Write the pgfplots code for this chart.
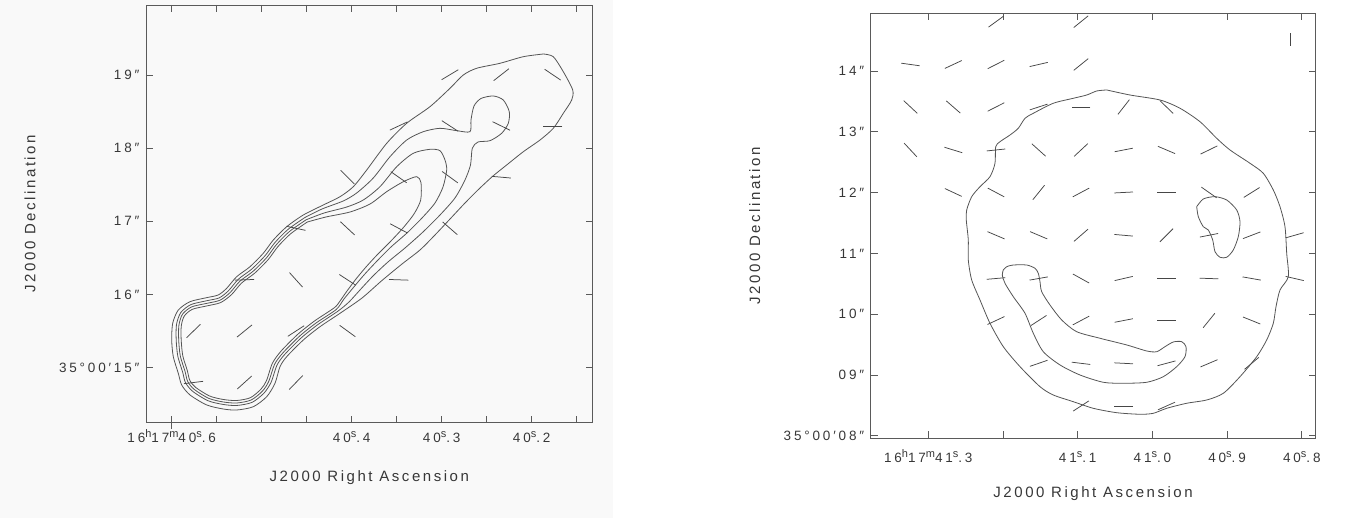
\documentclass[border=0pt]{standalone}
\usepackage{fontspec}
\setmainfont{Liberation Sans}
\newfontfamily\tickfont{Liberation Sans}[LetterSpace=21]
\newfontfamily\labfont{Liberation Sans}[LetterSpace=17]
\newcommand\su[1]{\raisebox{0.42em}{\fontsize{11}{12}\selectfont #1}}
\usepackage{pgfplots}
\pgfplotsset{compat=1.18}
\definecolor{bgl}{RGB}{249,249,249}
\definecolor{axc}{RGB}{90,90,90}
\definecolor{cnt}{RGB}{85,85,85}
\definecolor{vec}{RGB}{70,70,70}
\definecolor{txt}{RGB}{55,55,55}
\pgfplotsset{
  radio/.style={
    scale only axis, anchor=south west,
    tick align=inside, major tick length=7pt,
    axis line style={axc, line width=0.9pt},
    every tick/.style={axc, line width=0.8pt},
    tick label style={font=\tickfont\fontsize{13.5}{16}\selectfont, text=txt},
    xlabel={J2000 Right Ascension}, ylabel={J2000 Declination},
    x dir=reverse,
    every axis y label/.style={at={(axis description cs:0,0.5)}, xshift=-116pt, rotate=90, anchor=center, font=\labfont\fontsize{15}{18}\selectfont, text=txt},
    every axis x label/.style={at={(axis description cs:0.5,0)}, yshift=-55pt, anchor=center, font=\labfont\fontsize{15}{18}\selectfont, text=txt},
    yticklabel style={anchor=east, xshift=-3pt},
  },
  pvec/.style={only marks, scatter, mark=-, mark size=#1,
    scatter/use mapped color={draw=vec},
    visualization depends on={\thisrow{a}\as\pang},
    scatter/@pre marker code/.append style={/tikz/rotate=\pang},
    mark options={line width=0.75pt}, clip marker paths=true},
  cont/.style={smooth, tension=0.45, draw=cnt, line width=0.8pt, mark=none},
}
\begin{document}
\begin{tikzpicture}
\path[use as bounding box] (0,0) rectangle (1345pt,518pt);
\fill[bgl] (0,0) rectangle (613pt,518pt);
% ---------------- left panel ----------------
\begin{axis}[radio, at={(146pt,95.3pt)}, width=446.7pt, height=417.7pt,
  xmin=0.13222, xmax=0.62856, ymin=14.2467, ymax=19.9569,
  xtick={0.15,0.2,0.25,0.3,0.35,0.4,0.45,0.5,0.55,0.6},
  xticklabels={,40\su{s}.2,,40\su{s}.3,,40\su{s}.4,,,,16\su{h}17\su{m}40\su{s}.6},
  ytick={15,16,17,18,19},
  yticklabels={35°00′15″,16″,17″,18″,19″},
  xticklabel style={anchor=base, yshift=-20pt},
  extra x ticks={0.6}, extra x tick labels={},
  extra x tick style={xtick pos=bottom, tick align=center, major tick length=13pt},
]
\addplot[cont] coordinates {(0.18711,19.287) (0.176,19.250) (0.16489,19.045) (0.15444,18.795) (0.15556,18.658) (0.16489,18.476) (0.176,18.271) (0.19078,18.111) (0.20933,17.951) (0.22778,17.770) (0.243,17.619) (0.25856,17.442) (0.27411,17.250) (0.29078,17.031) (0.30745,16.813) (0.32411,16.608) (0.34411,16.416) (0.36634,16.191) (0.38856,15.951) (0.413,15.742) (0.43522,15.559) (0.45378,15.377) (0.47222,15.149) (0.47967,15.012) (0.48522,14.785) (0.49444,14.602) (0.50933,14.465) (0.52778,14.420) (0.54267,14.434) (0.56111,14.489) (0.57967,14.626) (0.58889,14.762) (0.59267,14.922) (0.59822,15.149) (0.6,15.377) (0.59889,15.606) (0.59267,15.787) (0.57967,15.901) (0.56111,15.956) (0.54822,15.993) (0.53889,16.084) (0.52778,16.243) (0.513,16.379) (0.49822,16.563) (0.48711,16.744) (0.47222,16.926) (0.45378,17.086) (0.43156,17.223) (0.413,17.336) (0.39822,17.473) (0.38333,17.701) (0.36111,18.066) (0.33889,18.340) (0.313,18.567) (0.29078,18.818) (0.276,19.000) (0.26111,19.092) (0.23522,19.160) (0.20933,19.250) (0.18711,19.287)};
\addplot[cont] coordinates {(0.45211,17.051) (0.43300,17.168) (0.40934,17.278) (0.39445,17.387) (0.37600,17.592) (0.35745,17.883) (0.33889,18.111) (0.32045,18.225) (0.30189,18.271) (0.28334,18.239) (0.26856,18.225) (0.26745,18.385) (0.26411,18.576) (0.25634,18.679) (0.24267,18.713) (0.23156,18.658) (0.22489,18.498) (0.22600,18.340) (0.23334,18.203) (0.24634,18.102) (0.25967,18.084) (0.26600,17.998) (0.26800,17.770) (0.27411,17.565) (0.28522,17.319) (0.30189,17.086) (0.32078,16.854) (0.34078,16.635) (0.35967,16.444) (0.37634,16.252) (0.39078,16.061) (0.40300,15.897) (0.41534,15.771) (0.43756,15.588) (0.45611,15.406) (0.47456,15.178) (0.48311,15.031) (0.48945,14.802) (0.49745,14.651) (0.51078,14.524) (0.52778,14.482) (0.54267,14.496) (0.55967,14.547) (0.57667,14.675) (0.58467,14.794) (0.58789,14.940) (0.59322,15.156) (0.595,15.377) (0.59467,15.589) (0.58989,15.753) (0.57867,15.861) (0.56067,15.915) (0.54722,15.953) (0.53689,16.051) (0.52578,16.210) (0.511,16.347) (0.49622,16.530) (0.48511,16.712) (0.47056,16.891) (0.45211,17.051)};
\addplot[cont] coordinates {(0.45067,17.020) (0.43078,17.113) (0.40556,17.195) (0.38711,17.291) (0.36856,17.473) (0.35,17.746) (0.33156,17.930) (0.313,17.984) (0.30189,17.965) (0.29634,17.838) (0.29445,17.701) (0.29856,17.469) (0.30745,17.250) (0.32189,17.045) (0.33856,16.840) (0.35634,16.649) (0.37189,16.457) (0.38634,16.266) (0.39856,16.088) (0.40856,15.938) (0.41722,15.794) (0.43945,15.611) (0.458,15.429) (0.47645,15.201) (0.48567,15.045) (0.49211,14.813) (0.49911,14.679) (0.51167,14.557) (0.52778,14.516) (0.54267,14.530) (0.55878,14.579) (0.575,14.702) (0.58222,14.810) (0.58522,14.951) (0.59045,15.159) (0.59222,15.377) (0.592,15.578) (0.588,15.730) (0.57778,15.830) (0.56022,15.880) (0.54634,15.921) (0.53522,16.024) (0.52411,16.182) (0.50934,16.319) (0.49456,16.502) (0.48345,16.684) (0.46911,16.861) (0.45067,17.020)};
\addplot[cont] coordinates {(0.44934,16.990) (0.42856,17.059) (0.40189,17.127) (0.37967,17.236) (0.36111,17.405) (0.34267,17.541) (0.32778,17.610) (0.323,17.528) (0.32334,17.291) (0.33078,17.100) (0.343,16.908) (0.35745,16.717) (0.37189,16.539) (0.38411,16.375) (0.39522,16.211) (0.40522,16.047) (0.413,15.910) (0.41922,15.819) (0.44145,15.636) (0.46,15.454) (0.47845,15.226) (0.48811,15.059) (0.49467,14.822) (0.50078,14.706) (0.51245,14.589) (0.52778,14.550) (0.54267,14.564) (0.558,14.612) (0.57334,14.729) (0.57989,14.826) (0.58267,14.960) (0.58767,15.161) (0.58945,15.377) (0.58934,15.569) (0.586,15.705) (0.577,15.797) (0.55978,15.846) (0.54556,15.889) (0.53356,15.997) (0.52245,16.155) (0.50767,16.292) (0.49289,16.475) (0.48178,16.657) (0.46778,16.830) (0.44934,16.990)};
\addplot[pvec=9.7pt] table[x=x,y=y] {
x y a
0.29078 19.004 31
0.23378 19.004 38
0.17667 19.004 -34
0.34778 18.303 25
0.29078 18.303 -33
0.23378 18.303 -26
0.17667 18.303 0
0.40467 17.603 -45
0.34778 17.603 -35
0.29078 17.603 -36
0.23378 17.603 -5
0.46189 16.904 -12
0.40467 16.904 -43
0.34778 16.904 -28
0.29078 16.904 -41
0.63278 16.200 0
0.51911 16.200 2
0.46189 16.200 -48
0.40467 16.200 -33
0.34778 16.200 -2
0.63278 15.500 0
0.57578 15.500 44
0.51911 15.500 39
0.46189 15.500 33
0.40467 15.500 -36
0.57578 14.796 7
0.51911 14.796 42
0.46189 14.796 46
};
\end{axis}
% ---------------- right panel ----------------
\begin{axis}[radio, at={(870.7pt,79.5pt)}, width=444.8pt, height=425.2pt,
  xmin=0.78166, xmax=1.37711, ymin=7.9556, ymax=14.949,
  xtick={0.8,0.9,1.0,1.1,1.2,1.3},
  xticklabels={40\su{s}.8,40\su{s}.9,41\su{s}.0,41\su{s}.1,,16\su{h}17\su{m}41\su{s}.3},
  ytick={8,9,10,11,12,13,14},
  yticklabels={35°00′08″,09″,10″,11″,12″,13″,14″},
  xticklabel style={anchor=base, yshift=-24.5pt},
]
\addplot[cont] coordinates {(1.06118,13.688) (1.02998,13.605) (0.98982,13.523) (0.96305,13.387) (0.93627,13.166) (0.91392,12.893) (0.89611,12.701) (0.86934,12.482) (0.85154,12.317) (0.83815,12.043) (0.82918,11.768) (0.82249,11.439) (0.82021,11.002) (0.81807,10.617) (0.82918,10.398) (0.83453,10.123) (0.83815,9.850) (0.84698,9.576) (0.86037,9.301) (0.88273,8.972) (0.90508,8.699) (0.92731,8.589) (0.95408,8.535) (0.98086,8.452) (0.99879,8.370) (1.0166,8.354) (1.04779,8.380) (1.07911,8.452) (1.10589,8.561) (1.13266,8.671) (1.15047,8.808) (1.17724,9.137) (1.1996,9.466) (1.2174,9.850) (1.23079,10.234) (1.2419,10.563) (1.24645,10.892) (1.24645,11.220) (1.24913,11.549) (1.24859,11.714) (1.2419,11.933) (1.23079,12.097) (1.2174,12.262) (1.21071,12.482) (1.20977,12.755) (1.20402,12.837) (1.19063,12.947) (1.17952,13.058) (1.17055,13.222) (1.15944,13.304) (1.13266,13.469) (1.10589,13.551) (1.08795,13.605) (1.07456,13.671) (1.06118,13.688)};
\addplot[cont] coordinates {(1.1996,10.727) (1.19505,10.781) (1.18621,10.809) (1.16827,10.809) (1.15716,10.755) (1.15274,10.673) (1.15047,10.535) (1.14819,10.370) (1.13708,10.151) (1.12142,9.905) (1.10134,9.712) (1.07015,9.604) (1.0344,9.494) (1.00763,9.395) (0.99424,9.383) (0.98313,9.466) (0.97202,9.543) (0.96077,9.548) (0.95502,9.466) (0.95636,9.301) (0.96747,9.137) (0.9854,8.972) (1.00763,8.880) (1.03895,8.864) (1.06573,8.880) (1.09692,9.000) (1.12369,9.165) (1.14605,9.383) (1.15944,9.686) (1.17055,10.015) (1.18621,10.288) (1.19732,10.508) (1.20094,10.645) (1.1996,10.727)};
\addplot[cont] coordinates {(0.94069,11.768) (0.93186,11.895) (0.9162,11.933) (0.90053,11.878) (0.88714,11.714) (0.88273,11.521) (0.885,11.275) (0.8917,11.056) (0.90053,10.936) (0.9095,10.936) (0.9162,11.028) (0.91927,11.220) (0.92516,11.385) (0.93186,11.439) (0.93855,11.604) (0.94069,11.768)};
\addplot[draw=vec, line width=0.75pt, mark=none] coordinates {(0.81486,14.620) (0.81486,14.411)};
\addplot[pvec=9.3pt] table[x=x,y=y] {
x y a
1.38179 14.811 -7
1.20937 14.811 36
1.09558 14.811 39
1.38179 14.107 0
1.32383 14.107 -8
1.26653 14.107 25
1.20937 14.107 27
1.15221 14.107 13
1.09558 14.107 39
1.38179 13.408 35
1.32383 13.408 -43
1.26653 13.408 -41
1.20937 13.408 27
1.15221 13.408 18
1.09558 13.408 0
1.03842 13.408 52
0.98112 13.408 -44
1.32383 12.701 -47
1.26653 12.701 -17
1.20937 12.701 6
1.15221 12.701 -42
1.09558 12.701 43
1.03842 12.701 11
0.98112 12.701 -23
0.92423 12.701 26
1.26653 12.002 -25
1.20937 12.002 -28
1.15221 12.002 51
1.09558 12.002 28
1.03842 12.002 3
0.98112 12.002 0
0.92423 12.002 -35
0.86707 12.002 32
1.20937 11.298 -23
1.15221 11.298 -23
1.09558 11.298 41
1.03842 11.298 -5
0.98112 11.298 45
0.92423 11.298 11
0.86707 11.298 21
0.80950 11.298 16
1.20937 10.587 5
1.15221 10.587 10
1.09558 10.587 -29
1.03842 10.587 13
0.98112 10.587 0
0.92423 10.587 -2
0.86707 10.587 -10
0.80950 10.587 -13
1.20937 9.896 25
1.15221 9.896 33
1.09558 9.896 28
1.03842 9.896 11
0.98112 9.896 0
0.92423 9.896 51
0.86707 9.896 -22
1.15221 9.192 19
1.09558 9.192 -7
1.03842 9.192 -3
0.98112 9.192 15
0.92423 9.192 23
0.86707 9.192 40
1.09558 8.490 33
1.03842 8.490 0
0.98112 8.490 24
};
\end{axis}
\end{tikzpicture}
\end{document}
